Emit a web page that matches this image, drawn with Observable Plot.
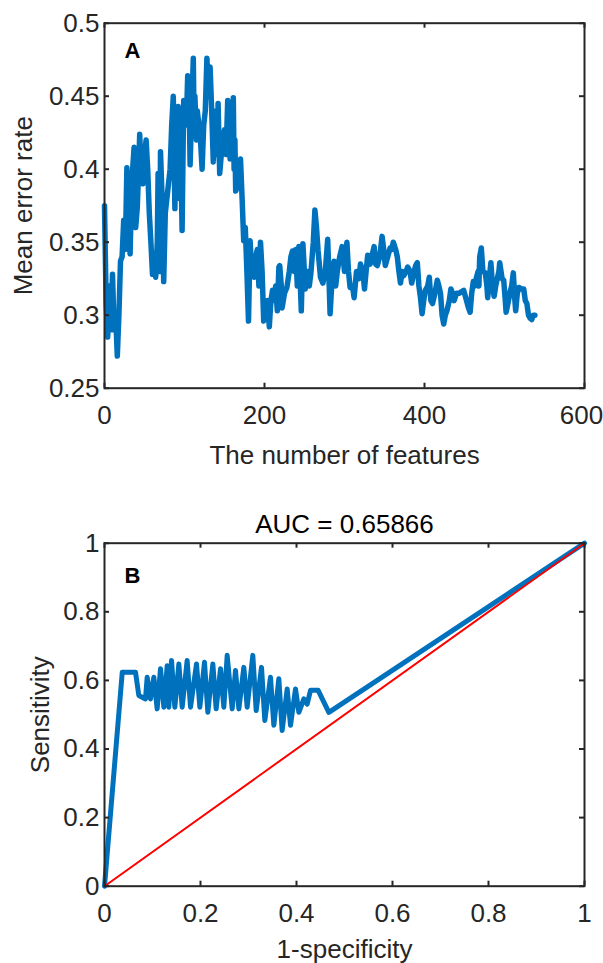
<!DOCTYPE html>
<html>
<head>
<meta charset="utf-8">
<script src="https://cdn.jsdelivr.net/npm/d3@7"></script>
<script src="https://cdn.jsdelivr.net/npm/@observablehq/plot@0.6"></script>
<style>
  html, body { margin: 0; padding: 0; background: #ffffff; overflow: hidden; }
  #chart { width: 603px; }
  #chart svg { display: block; }
</style>
</head>
<body>
<div id="chart"></div>
<script>
// ---------- Panel A data ----------
const features = [0,2,4,6,8,10,12,14,16,18,20,22,24,26,28,30,32,34,37,39,41,43,44,46,48,50,52,54,56,58,60,62,64,66,67,69,70,72,74,76,78,80,82,84,86,87,88,89,91,92,93,94,96,97,99,101,103,104,105,106,107,109,111,112,113,115,116,118,120,122,124,126,128,130,132,134,136,138,140,141,142,143,144,146,148,150,152,154,155,156,157,159,161,162,163,164,166,168,170,172,174,176,178,180,182,184,187,189,191,193,195,197,199,202,204,206,208,210,212,214,216,218,219,221,222,225,228,231,233,235,237,239,241,243,246,248,251,254,256,258,261,263,265,267,270,273,276,279,282,285,287,289,291,294,297,300,303,305,307,310,312,315,318,320,323,325,327,329,332,334,337,339,341,344,347,349,351,354,357,359,361,364,366,368,370,372,374,377,379,382,384,387,389,391,393,395,397,399,401,404,406,408,410,413,416,418,420,422,424,426,428,431,433,435,437,440,443,446,449,452,455,457,459,461,463,465,467,468,469,471,473,476,478,479,481,483,485,487,489,491,493,494,497,499,501,502,505,507,509,511,513,514,516,518,521,524,526,528,530,532,534,536,538];
const meanError = [0.375,0.31,0.285,0.32,0.29,0.328,0.29,0.3,0.272,0.30,0.337,0.34,0.365,0.345,0.401,0.36,0.342,0.39,0.415,0.36,0.374,0.405,0.424,0.395,0.39,0.41,0.42,0.4,0.37,0.35,0.328,0.33,0.326,0.35,0.397,0.33,0.412,0.38,0.323,0.37,0.38,0.39,0.40,0.43,0.45,0.41,0.373,0.43,0.38,0.443,0.40,0.44,0.39,0.358,0.447,0.43,0.445,0.464,0.43,0.44,0.403,0.44,0.476,0.43,0.45,0.42,0.44,0.43,0.42,0.40,0.43,0.44,0.476,0.45,0.47,0.44,0.405,0.43,0.44,0.41,0.445,0.42,0.397,0.41,0.42,0.427,0.41,0.447,0.41,0.43,0.407,0.42,0.449,0.40,0.42,0.385,0.388,0.40,0.407,0.38,0.351,0.36,0.33,0.296,0.351,0.33,0.326,0.34,0.345,0.32,0.35,0.33,0.296,0.30,0.31,0.292,0.31,0.317,0.31,0.32,0.303,0.333,0.334,0.32,0.305,0.315,0.319,0.33,0.34,0.344,0.33,0.345,0.32,0.347,0.303,0.349,0.318,0.33,0.32,0.329,0.35,0.372,0.36,0.344,0.326,0.322,0.33,0.352,0.301,0.33,0.337,0.32,0.33,0.34,0.347,0.33,0.35,0.33,0.319,0.32,0.312,0.33,0.325,0.335,0.33,0.318,0.33,0.341,0.335,0.34,0.347,0.335,0.334,0.34,0.354,0.345,0.334,0.34,0.346,0.345,0.35,0.345,0.34,0.33,0.322,0.33,0.327,0.33,0.333,0.33,0.322,0.33,0.334,0.336,0.32,0.312,0.301,0.31,0.317,0.32,0.326,0.31,0.308,0.315,0.324,0.32,0.315,0.30,0.294,0.30,0.303,0.31,0.318,0.315,0.31,0.315,0.315,0.316,0.317,0.311,0.305,0.302,0.315,0.323,0.32,0.326,0.33,0.32,0.34,0.346,0.33,0.329,0.32,0.312,0.325,0.336,0.32,0.313,0.32,0.325,0.33,0.336,0.325,0.324,0.31,0.302,0.31,0.316,0.32,0.329,0.31,0.303,0.315,0.319,0.318,0.318,0.31,0.308,0.30,0.298,0.297,0.30,0.30];
const xTicksA = [0, 200, 400, 600];
const yTicksA = [0.25, 0.3, 0.35, 0.4, 0.45, 0.5];
const xLabelA = "The number of features";
const yLabelA = "Mean error rate";
const panelLabelA = "A";

// ---------- Panel B data ----------
const fpr = [0,0.037,0.0646,0.0715,0.0854,0.0889,0.0958,0.1028,0.1097,0.1167,0.1236,0.1306,0.134,0.1396,0.1465,0.1549,0.1618,0.1722,0.1792,0.1917,0.1986,0.2083,0.2153,0.2257,0.2326,0.2417,0.2486,0.2556,0.266,0.2729,0.2799,0.2903,0.2972,0.309,0.316,0.3271,0.334,0.3458,0.3528,0.3632,0.3701,0.3806,0.3875,0.3979,0.4049,0.4153,0.4222,0.4292,0.4451,0.4674,1];
const tpr = [0,0.624,0.624,0.556,0.546,0.609,0.546,0.609,0.517,0.634,0.522,0.643,0.522,0.658,0.522,0.648,0.522,0.658,0.522,0.648,0.522,0.653,0.507,0.648,0.517,0.634,0.522,0.673,0.517,0.629,0.517,0.638,0.522,0.673,0.512,0.638,0.483,0.609,0.469,0.605,0.454,0.575,0.469,0.575,0.507,0.546,0.531,0.571,0.571,0.507,1];
const chanceX = [0, 1];
const chanceY = [0, 1];
const xTicksB = [0, 0.2, 0.4, 0.6, 0.8, 1];
const yTicksB = [0, 0.2, 0.4, 0.6, 0.8, 1];
const titleB = "AUC = 0.65866";
const xLabelB = "1-specificity";
const yLabelB = "Sensitivity";
const panelLabelB = "B";

// ---------- styling ----------
const FONT = "'Liberation Sans', Arial, Helvetica, sans-serif";
const INK = "#262626";
const BLUE = "#0072BD";
const FS = 26;
const TICK = 5;

function boxTicks(xt, yt, w, h) {
  return [
    Plot.ruleX(xt, {x: d => d, insetTop: h - TICK, stroke: INK, strokeWidth: 2}),
    Plot.ruleX(xt, {x: d => d, insetBottom: h - TICK, stroke: INK, strokeWidth: 2}),
    Plot.ruleY(yt, {y: d => d, insetRight: w - TICK, stroke: INK, strokeWidth: 2}),
    Plot.ruleY(yt, {y: d => d, insetLeft: w - TICK, stroke: INK, strokeWidth: 2})
  ];
}

// ---------- Panel A ----------
const A = {width: 603, height: 480, mL: 104, mR: 19, mT: 22.7, mB: 92.3};
const wA = A.width - A.mL - A.mR, hA = A.height - A.mT - A.mB;
const dataA = features.map((f, i) => ({features: f, error: meanError[i]}));

const plotA = Plot.plot({
  width: A.width, height: A.height,
  marginLeft: A.mL, marginRight: A.mR, marginTop: A.mT, marginBottom: A.mB,
  style: {fontFamily: FONT, fontSize: FS + "px", color: INK, background: "#ffffff", overflow: "visible"},
  x: {domain: [0, 600]},
  y: {domain: [0.25, 0.5]},
  marks: [
    Plot.line(dataA, {x: "features", y: "error", stroke: BLUE, strokeWidth: 5.5, strokeLinejoin: "round", strokeLinecap: "round"}),
    Plot.frame({stroke: INK, strokeWidth: 2}),
    ...boxTicks(xTicksA, yTicksA, wA, hA),
    Plot.axisX({ticks: xTicksA.slice(0, -1), tickSize: 0, tickPadding: 17, tickFormat: d => String(d), label: null, fontSize: FS, fill: INK}),
    Plot.axisX({ticks: xTicksA.slice(-1), tickSize: 0, tickPadding: 17, tickFormat: d => String(d), label: null, fontSize: FS, fill: INK, dx: -3}),
    Plot.axisY({ticks: yTicksA, tickSize: 0, tickPadding: 5, tickFormat: d => String(d), label: null, fontSize: FS, fill: INK}),
    Plot.text([xLabelA], {frameAnchor: "bottom", dy: 67.3, text: d => d, fontSize: FS, fill: INK, textAnchor: "middle", lineAnchor: "middle"}),
    Plot.text([yLabelA], {frameAnchor: "left", dx: -80.7, rotate: -90, text: d => d, fontSize: FS, fill: INK, textAnchor: "middle", lineAnchor: "middle"}),
    Plot.text([panelLabelA], {frameAnchor: "top-left", dx: 20, dy: 27.5, text: d => d, fontSize: 22, fontWeight: "bold", fill: "#000", textAnchor: "start", lineAnchor: "middle"})
  ]
});

// ---------- Panel B ----------
const B = {width: 603, height: 483, mL: 104, mR: 19, mT: 62.7, mB: 77.3};
const wB = B.width - B.mL - B.mR, hB = B.height - B.mT - B.mB;
const dataB = fpr.map((x, i) => ({fpr: x, tpr: tpr[i]}));
const chance = chanceX.map((x, i) => ({x, y: chanceY[i]}));

const plotB = Plot.plot({
  width: B.width, height: B.height,
  marginLeft: B.mL, marginRight: B.mR, marginTop: B.mT, marginBottom: B.mB,
  style: {fontFamily: FONT, fontSize: FS + "px", color: INK, background: "#ffffff", overflow: "visible"},
  x: {domain: [0, 1]},
  y: {domain: [0, 1]},
  marks: [
    Plot.line(dataB, {x: "fpr", y: "tpr", stroke: BLUE, strokeWidth: 5, strokeLinejoin: "round", strokeLinecap: "round"}),
    Plot.line(chance, {x: "x", y: "y", stroke: "#ff0000", strokeWidth: 2}),
    Plot.frame({stroke: INK, strokeWidth: 2}),
    ...boxTicks(xTicksB, yTicksB, wB, hB),
    Plot.axisX({ticks: xTicksB, tickSize: 0, tickPadding: 17, tickFormat: d => String(d), label: null, fontSize: FS, fill: INK}),
    Plot.axisY({ticks: yTicksB, tickSize: 0, tickPadding: 5, tickFormat: d => String(d), label: null, fontSize: FS, fill: INK}),
    Plot.text([titleB], {frameAnchor: "top", dy: -19, text: d => d, fontSize: FS, fill: "#000", textAnchor: "middle", lineAnchor: "middle"}),
    Plot.text([xLabelB], {frameAnchor: "bottom", dy: 63.3, text: d => d, fontSize: FS, fill: INK, textAnchor: "middle", lineAnchor: "middle"}),
    Plot.text([yLabelB], {frameAnchor: "left", dx: -63.4, rotate: -90, text: d => d, fontSize: FS, fill: INK, textAnchor: "middle", lineAnchor: "middle"}),
    Plot.text([panelLabelB], {frameAnchor: "top-left", dx: 20, dy: 33, text: d => d, fontSize: 22, fontWeight: "bold", fill: "#000", textAnchor: "start", lineAnchor: "middle"})
  ]
});

document.getElementById("chart").append(plotA, plotB);
</script>
</body>
</html>
